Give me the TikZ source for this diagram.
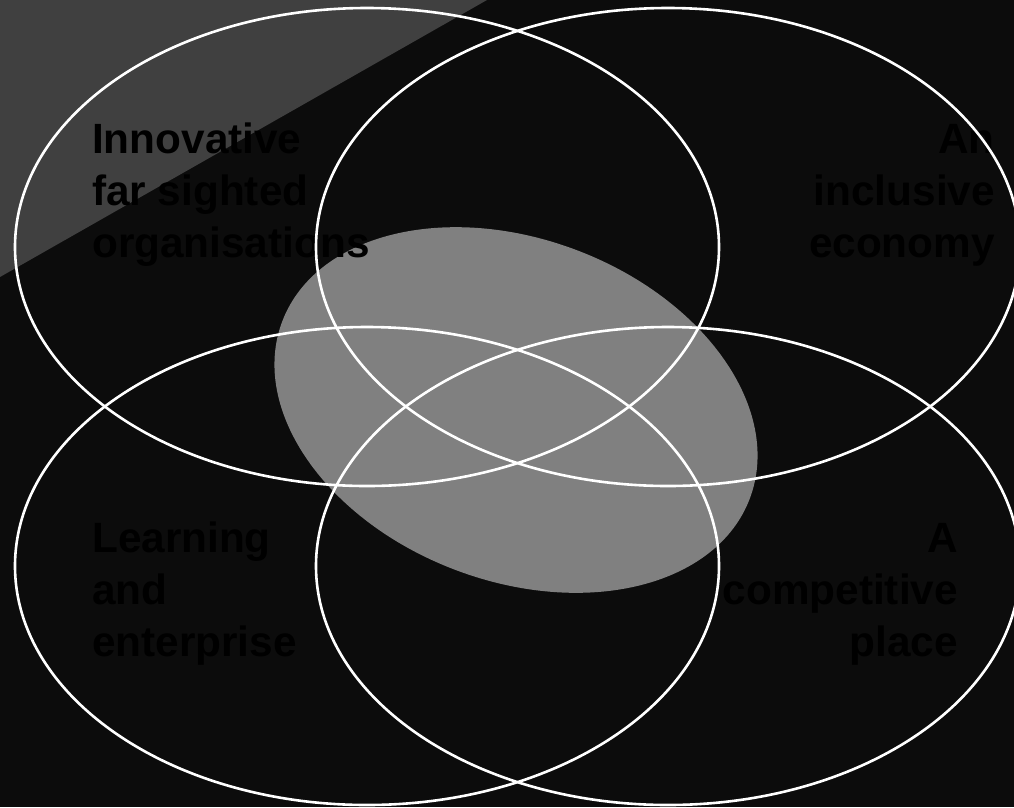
\documentclass[tikz,border=0pt]{standalone}
\usepackage{fontspec}
\setmainfont{Liberation Sans}
\definecolor{bgdark}{RGB}{12,12,12}
\definecolor{triangray}{RGB}{64,64,64}
\definecolor{midgray}{RGB}{128,128,128}
\begin{document}
\begin{tikzpicture}[x=1pt,y=-1pt,
  ring/.style={draw=white,line width=2.6pt},
  lbl/.style={inner sep=0pt,text=black,font=\fontsize{42.3}{52}\selectfont\bfseries}]
\useasboundingbox (0,0) rectangle (1014,807);
\fill[bgdark] (0,0) rectangle (1014,807);
\fill[triangray] (0,0) -- (487,0) -- (0,277) -- cycle;
\fill[midgray, rotate around={-20.75:(516,410)}] (516,410) ellipse [x radius=250pt, y radius=171pt];
% labels
\node[lbl,anchor=base west] (t1) at (92,153) {Innovative};
\node[lbl,anchor=base west] (t2) at (92,205) {far sighted};
\node[lbl,anchor=base west] (t3) at (92,257) {organisations};
\node[lbl,anchor=base east] (r1) at (995,153) {An};
\node[lbl,anchor=base east] (r2) at (995,205) {inclusive};
\node[lbl,anchor=base east] (r3) at (995,257) {economy};
\node[lbl,anchor=base west] (l1) at (92,552) {Learning};
\node[lbl,anchor=base west] (l2) at (92,604) {and};
\node[lbl,anchor=base west] (l3) at (92,656) {enterprise};
\node[lbl,anchor=base east] (c1) at (958,552) {A};
\node[lbl,anchor=base east] (c2) at (958,604) {competitive};
\node[lbl,anchor=base east] (c3) at (958,656) {place};
% rings
\draw[ring] (367,247) ellipse [x radius=352pt, y radius=239pt];
\draw[ring] (668,247) ellipse [x radius=352pt, y radius=239pt];
\draw[ring] (367,566) ellipse [x radius=352pt, y radius=239pt];
\draw[ring] (668,566) ellipse [x radius=352pt, y radius=239pt];
\end{tikzpicture}
\end{document}
